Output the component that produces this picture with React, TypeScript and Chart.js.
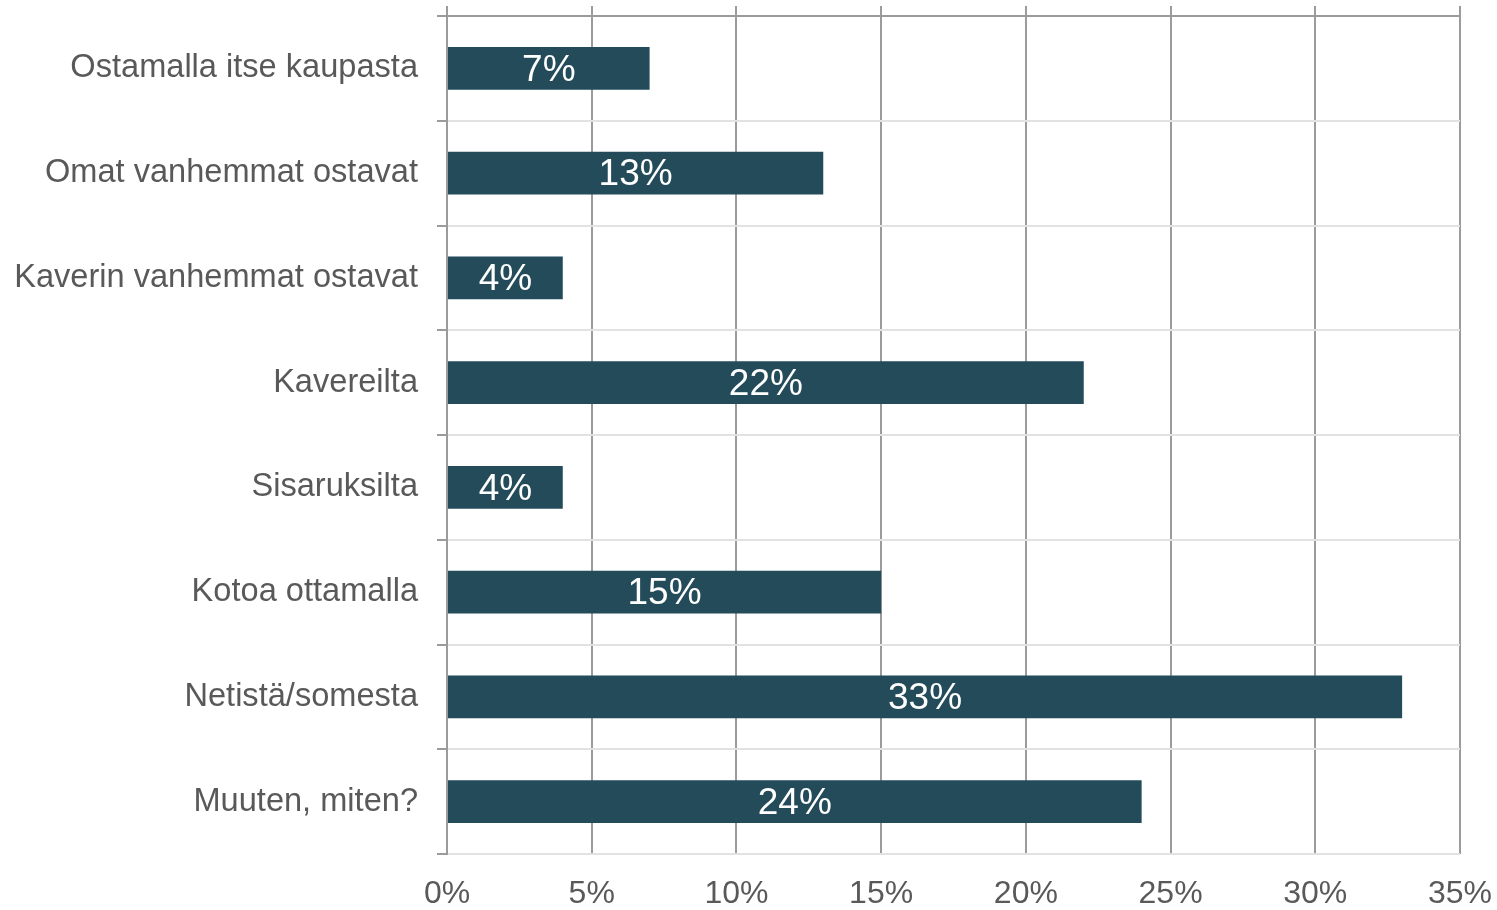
import React, { useEffect, useRef } from "react";
import { Chart, registerables } from "chart.js";

Chart.register(...registerables);

const categories = [
  "Ostamalla itse kaupasta",
  "Omat vanhemmat ostavat",
  "Kaverin vanhemmat ostavat",
  "Kavereilta",
  "Sisaruksilta",
  "Kotoa ottamalla",
  "Netistä/somesta",
  "Muuten, miten?",
];
const values = [7, 13, 4, 22, 4, 15, 33, 24];
const xTicks = [0, 5, 10, 15, 20, 25, 30, 35];

const FONT = "'Liberation Sans', Arial, sans-serif";
const TEXT = "#595959";
const DARK_GRID = "#9b9b9b";
const LIGHT_GRID = "#e2e2e2";
const BAR = "#234b5a";

const barLabels = {
  id: "barLabels",
  afterDatasetsDraw(chart: any) {
    const ctx = chart.ctx;
    const meta = chart.getDatasetMeta(0);
    ctx.save();
    ctx.fillStyle = "#ffffff";
    ctx.font = `37px ${FONT}`;
    ctx.textAlign = "center";
    ctx.textBaseline = "middle";
    meta.data.forEach((el: any, i: number) => {
      const cx = (el.x + el.base) / 2;
      ctx.fillText(`${values[i]}%`, cx, el.y + 2);
    });
    ctx.restore();
  },
};

export default function App() {
  const ref = useRef<HTMLCanvasElement>(null);
  useEffect(() => {
    if (!ref.current) return;
    const chart = new Chart(ref.current, {
      type: "bar",
      data: {
        labels: categories,
        datasets: [
          {
            data: values,
            backgroundColor: BAR,
            borderWidth: 0,
            categoryPercentage: 1,
            barPercentage: 0.41,
            xAxisID: "x",
          },
        ],
      },
      options: {
        indexAxis: "y",
        animation: false,
        responsive: false,
        maintainAspectRatio: false,
        layout: { padding: { left: 0, right: 37, top: 0, bottom: 0 } },
        plugins: { legend: { display: false }, tooltip: { enabled: false } },
        scales: {
          x: {
            position: "bottom",
            min: 0,
            max: 35,
            afterBuildTicks: (s: any) => {
              s.ticks = xTicks.map((v) => ({ value: v }));
            },
            afterFit: (s: any) => {
              s.height = 56;
              s.paddingLeft = 0;
              s.paddingRight = 0;
            },
            ticks: {
              callback: (v: any) => `${v}%`,
              color: TEXT,
              font: { family: FONT, size: 32 },
              padding: 21,
              maxRotation: 0,
              autoSkip: false,
            },
            grid: { color: DARK_GRID, lineWidth: 2, drawTicks: false },
            border: { display: false },
          },
          x2: {
            position: "top",
            min: 0,
            max: 35,
            afterBuildTicks: (s: any) => {
              s.ticks = xTicks.map((v) => ({ value: v }));
            },
            afterFit: (s: any) => {
              s.height = 16;
              s.paddingLeft = 0;
              s.paddingRight = 0;
            },
            ticks: { display: false },
            grid: {
              drawOnChartArea: false,
              drawTicks: true,
              tickLength: 10,
              color: DARK_GRID,
              tickColor: DARK_GRID,
              lineWidth: 2,
            },
            border: { display: false },
          },
          y: {
            afterFit: (s: any) => {
              s.width = 447;
              s.paddingTop = 0;
              s.paddingBottom = 0;
            },
            ticks: {
              color: TEXT,
              font: { family: FONT, size: 32.6 },
              padding: 19,
              autoSkip: false,
            },
            grid: {
              offset: true,
              tickLength: 10,
              lineWidth: 2,
              color: (c: any) => (c.index === 0 ? DARK_GRID : LIGHT_GRID),
              tickColor: DARK_GRID,
            },
            border: { display: true, color: DARK_GRID, width: 2 },
          },
        },
      },
      plugins: [barLabels],
    });
    return () => chart.destroy();
  }, []);
  return (
    <div style={{ position: "fixed", left: 0, top: 0, width: 1497, height: 910, background: "#fff" }}>
      <canvas ref={ref} width={1497} height={910} style={{ display: "block" }} />
    </div>
  );
}
